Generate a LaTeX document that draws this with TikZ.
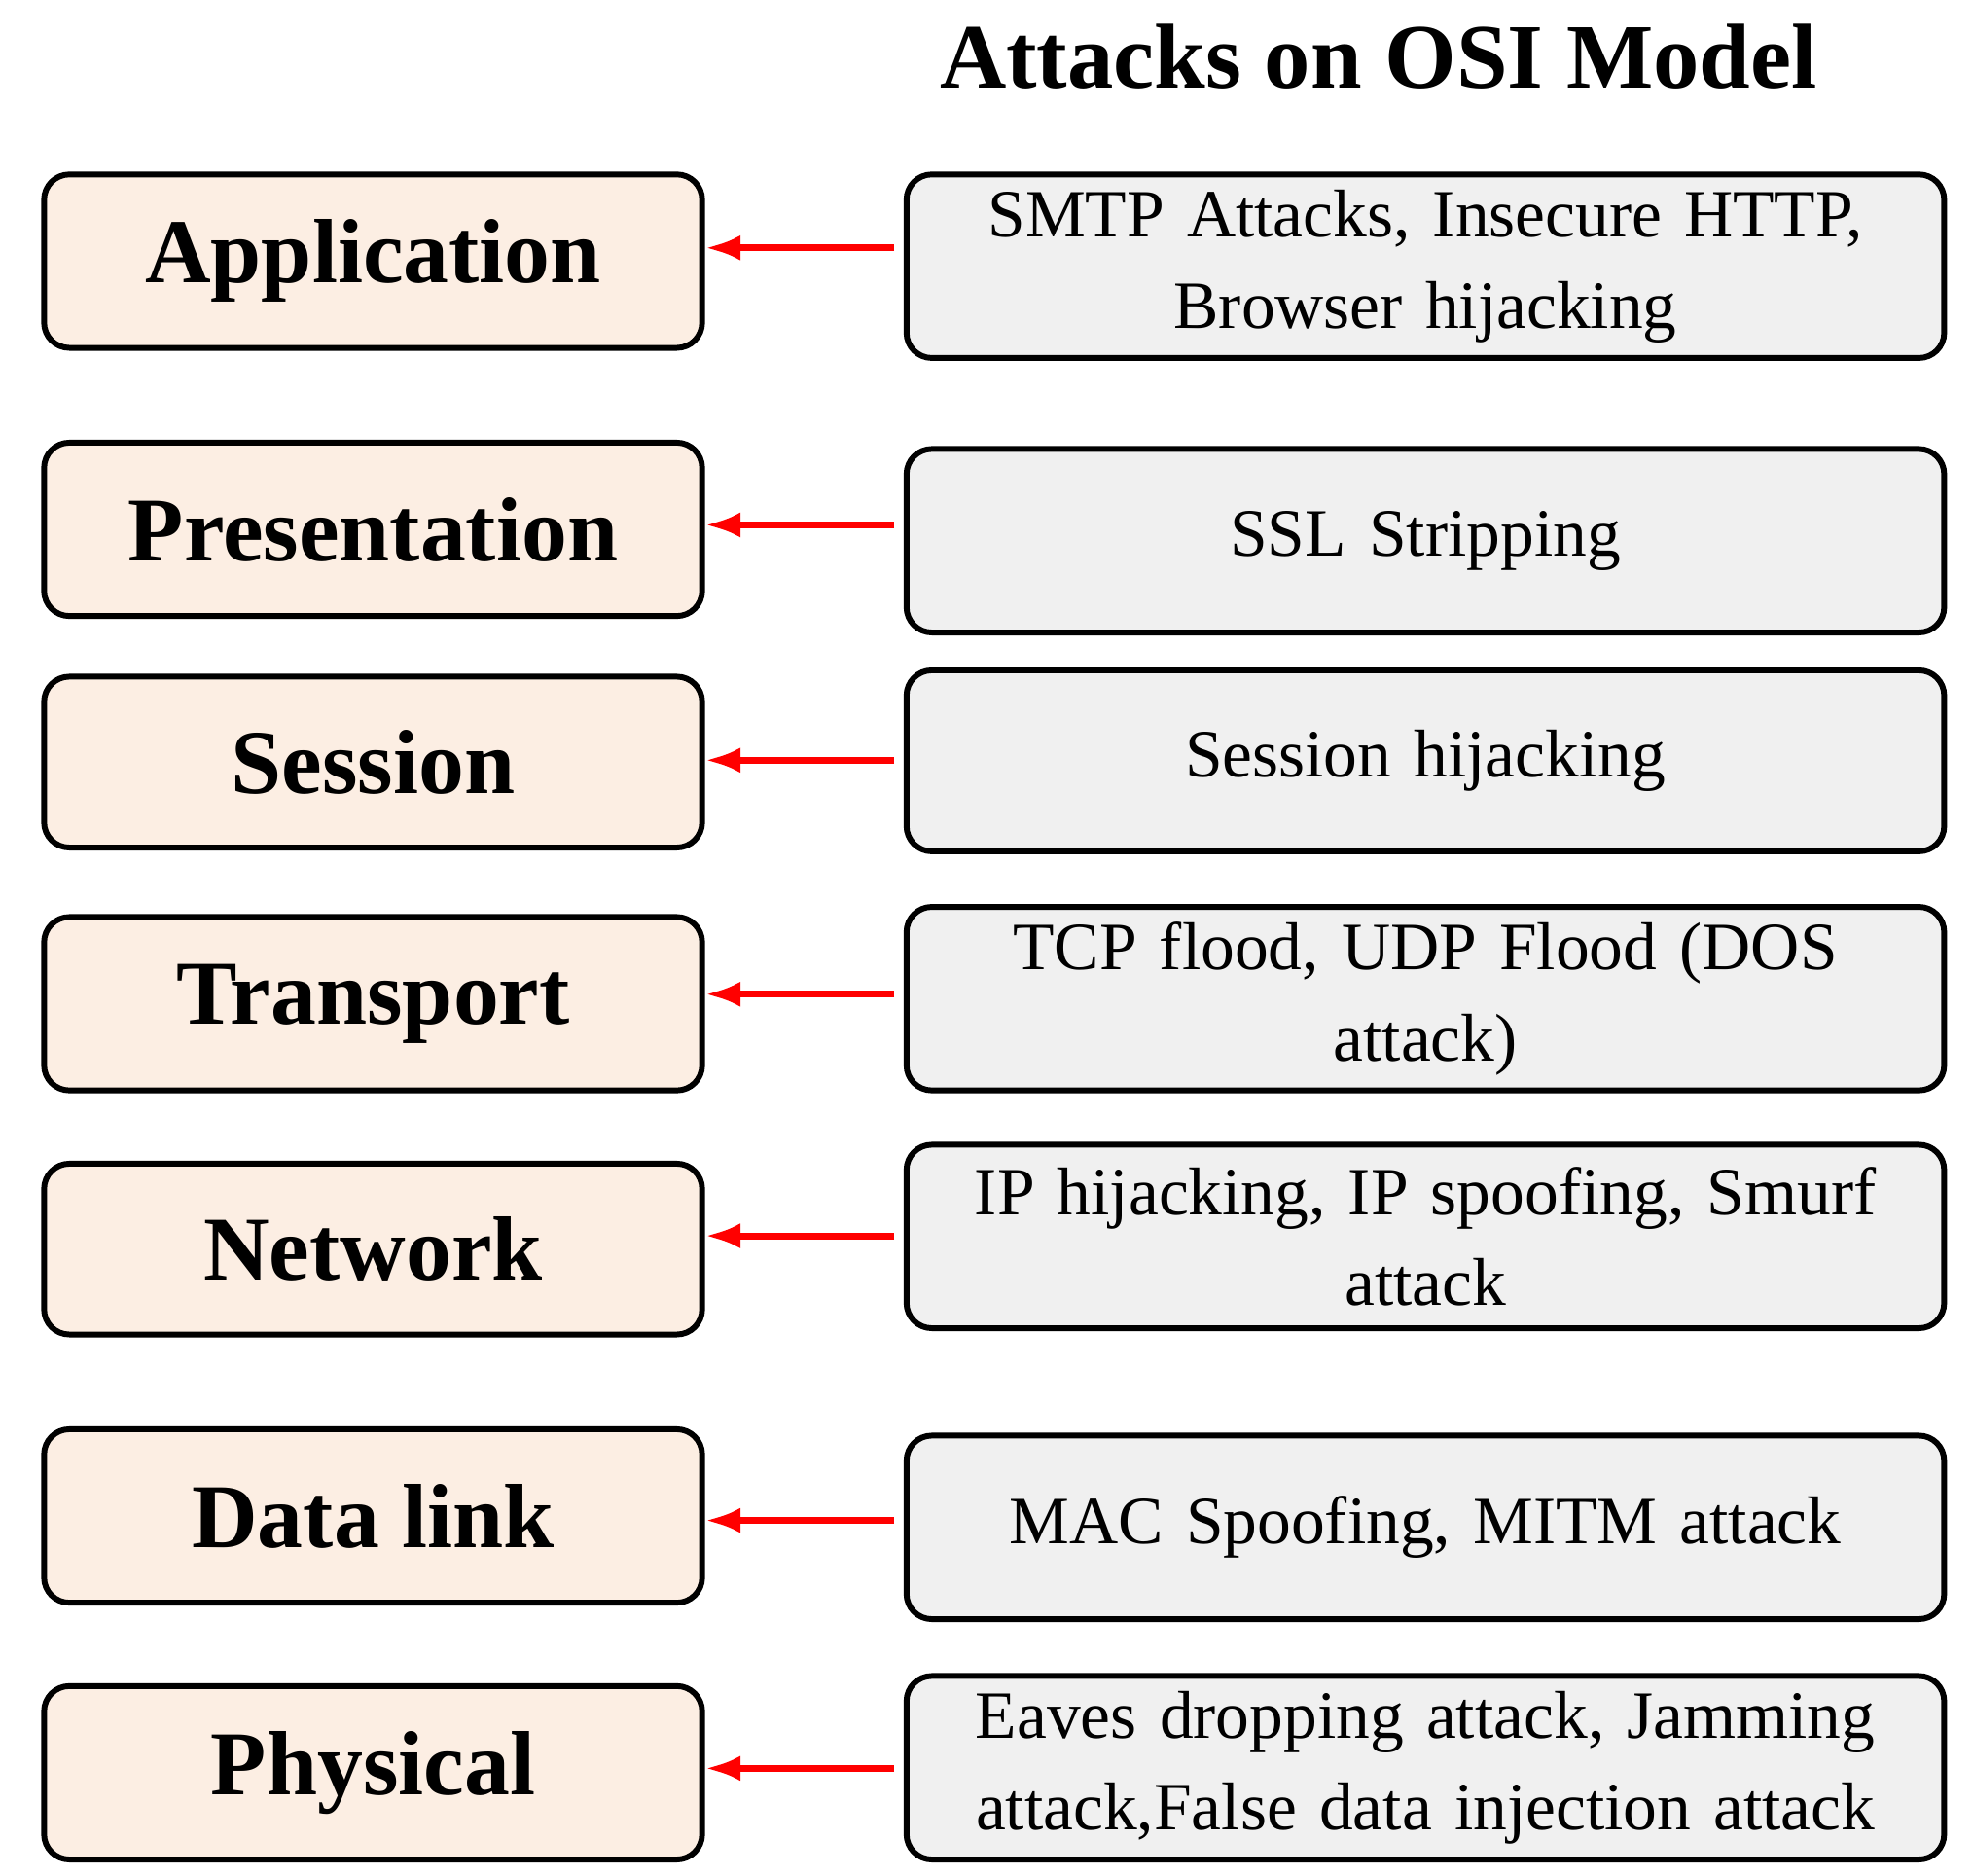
\documentclass[tikz,border=0pt]{standalone}
\usepackage{fontspec}
\setmainfont{Liberation Serif}
\usetikzlibrary{arrows.meta}
\definecolor{peach}{HTML}{FCEEE3}
\definecolor{grayf}{HTML}{F0F0F0}
\begin{document}
\begin{tikzpicture}[x=0.01cm,y=-0.01cm,
 lay/.style={draw,line width=1.3pt,rounded corners=0.2cm,fill=peach,minimum width=5.2cm,font=\fontsize{20.5}{24}\selectfont\bfseries},
 att/.style={draw,line width=1.3pt,rounded corners=0.2cm,fill=grayf,minimum width=8.2cm,text width=8.1cm,align=center,inner sep=0pt,font=\fontsize{15.2}{20.5}\selectfont},
 arr/.style={red,line width=1.5pt,-{Latex[length=0.28cm,width=0.2cm]}}]
\useasboundingbox (0,0) rectangle (1560,1483);
\node[font=\fontsize{20.7}{24}\selectfont\bfseries] (title) at (1090,45) {Attacks on OSI Model};
\foreach \n/\t/\a/\b in {a/Application/138/275,b/Presentation/350/487,c/Session/535/670,d/Transport/725/862,e/Network/920/1055,f/Data link/1130/1267,g/Physical/1333/1470}{
 \pgfmathsetmacro\c{(\a+\b)/2}\pgfmathsetmacro\h{(\b-\a)/100}
 \node[lay,minimum height=\h cm] (L\n) at (295,\c) {\t};}
\foreach \n/\t/\a/\b in {a/{SMTP Attacks, Insecure HTTP,\\Browser hijacking}/138/283,b/{SSL Stripping}/355/500,c/{Session hijacking}/530/673,d/{TCP flood, UDP Flood (DOS\\attack)}/717/862,e/{IP hijacking, IP spoofing, Smurf\\attack}/905/1050,f/{MAC Spoofing, MITM attack}/1135/1280,g/{Eaves dropping attack, Jamming\\attack,False data injection attack}/1325/1470}{
 \pgfmathsetmacro\c{(\a+\b)/2}\pgfmathsetmacro\h{(\b-\a)/100}
 \node[att,minimum height=\h cm] (R\n) at (1127,\c) {\t};}
\foreach \n/\y in {a/196,b/415,c/601,d/786,e/977,f/1202,g/1398}{
 \coordinate (s\n) at (707,\y);
 \draw[arr] (s\n) -- (L\n.east |- s\n);}
\end{tikzpicture}
\end{document}
